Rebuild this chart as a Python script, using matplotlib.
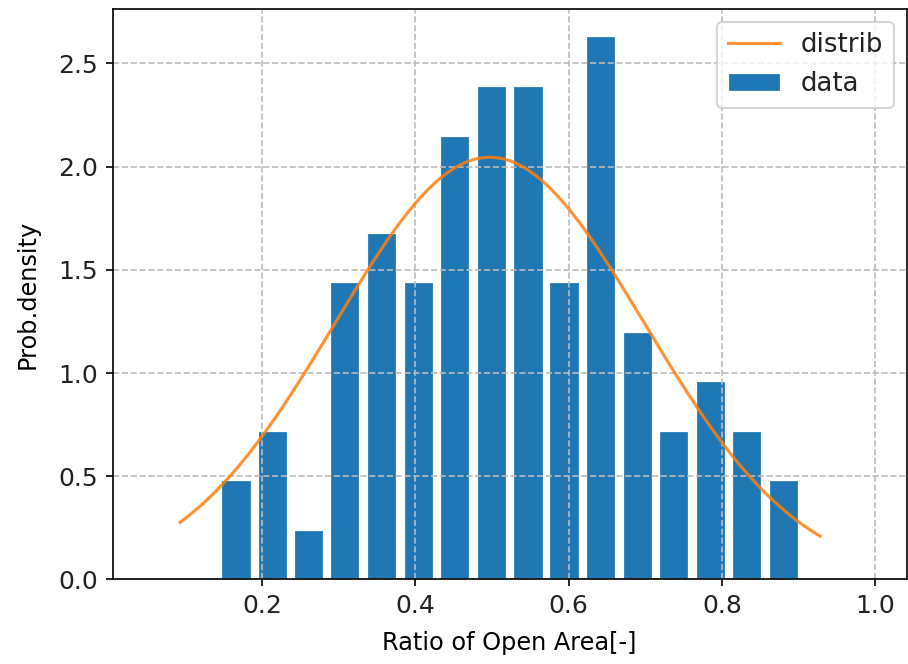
import numpy as np
import matplotlib
matplotlib.use('Agg')
import matplotlib.pyplot as plt

# histogram of the open-area ratio (density per bin)
bin_centers = [0.166, 0.213, 0.261, 0.308, 0.356, 0.404, 0.451, 0.499,
               0.547, 0.594, 0.642, 0.690, 0.737, 0.785, 0.832, 0.880]
bin_width = 0.0476
density = [0.48, 0.72, 0.24, 1.44, 1.68, 1.44, 2.15, 2.39,
           2.39, 1.44, 2.63, 1.20, 0.72, 0.96, 0.72, 0.48]

# fitted distribution
dist_mean = 0.497
dist_std = 0.202
dist_peak = 2.045
dist_xmin = 0.093
dist_xmax = 0.928

x = np.linspace(dist_xmin, dist_xmax, 200)
pdf = dist_peak * np.exp(-(x - dist_mean) ** 2 / (2 * dist_std ** 2))

plt.rcParams['xtick.labelsize'] = 12
plt.rcParams['ytick.labelsize'] = 12
plt.rcParams['legend.fontsize'] = 12.5
plt.rcParams['axes.labelsize'] = 11.5
plt.rcParams['text.color'] = '#222222'
plt.rcParams['xtick.labelcolor'] = '#222222'
plt.rcParams['ytick.labelcolor'] = '#222222'

fig = plt.figure(figsize=(909 / 150, 664 / 150), dpi=150)
ax = fig.add_axes([0.124, 0.1273, 0.8733, 0.8591])

ax.bar(bin_centers, density, width=bin_width * 0.8, color='C0',
       edgecolor='white', linewidth=0.6, label='data')
ax.plot(x, pdf, color='C1', alpha=0.85, label='distrib')

ax.set_xlim(0.005, 1.041)
ax.set_ylim(0, 2.763)
ax.set_xticks([0.2, 0.4, 0.6, 0.8, 1.0])
ax.set_yticks([0.0, 0.5, 1.0, 1.5, 2.0, 2.5])
ax.grid(True, linestyle='--', color='#bbbbbb')
ax.set_xlabel('Ratio of Open Area[-]', labelpad=6)
ax.set_ylabel('Prob.density', labelpad=9)
ax.legend(loc='upper right')

fig.savefig('out.png', dpi=150)
